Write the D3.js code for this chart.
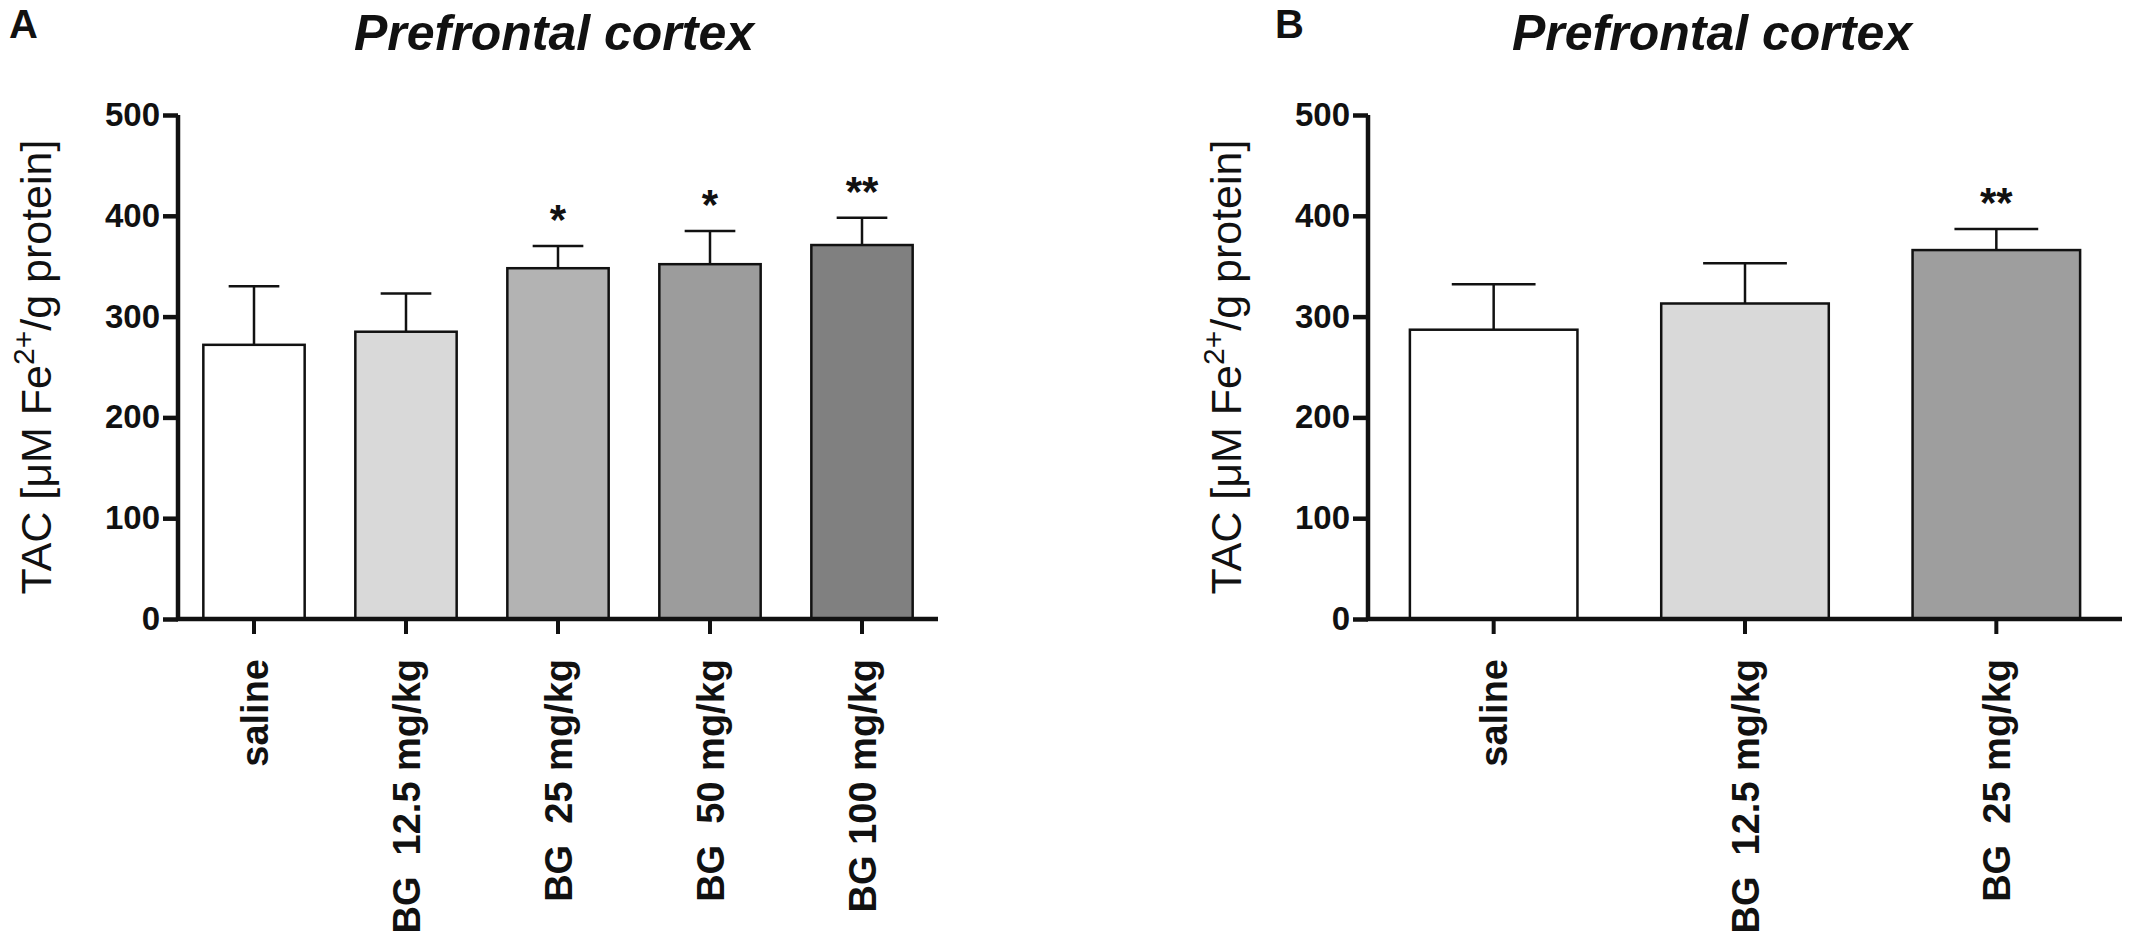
<!DOCTYPE html>
<html>
<head>
<meta charset="utf-8">
<script src="https://cdn.jsdelivr.net/npm/d3@7"></script>
<style>
  body { margin: 0; background: #fff; }
  text { font-family: "Liberation Sans", Arial, sans-serif; fill: #111; }
</style>
</head>
<body>
<svg id="chart" width="2130" height="944"></svg>
<script>
// panel A data
const groupsA = ["saline", "BG  12.5 mg/kg", "BG  25 mg/kg", "BG  50 mg/kg", "BG 100 mg/kg"]
const meansA = [272, 285, 348, 352, 371]
const errA = [330, 323, 370, 385, 398]
const starsA = ["", "", "*", "*", "**"]
const fillsA = ["#ffffff", "#d9d9d9", "#b3b3b3", "#9c9c9c", "#808080"]

// panel B data
const groupsB = ["saline", "BG  12.5 mg/kg", "BG  25 mg/kg"]
const meansB = [287, 313, 366]
const errB = [332, 353, 387]
const starsB = ["", "", "**"]
const fillsB = ["#ffffff", "#d9d9d9", "#9e9e9e"]

const yTicks = [0, 100, 200, 300, 400, 500]

const svg = d3.select("#chart")

function drawPanel(opts) {
  const g = svg.append("g")
  const y = d3.scaleLinear().domain([0, 500]).range([619, 115])
  const x = d3.scaleBand()
    .domain(opts.groups)
    .range([opts.x0, opts.x1])
    .paddingInner(1 / 3)
    .paddingOuter(1 / 6)

  const data = opts.groups.map((name, i) => ({
    name,
    mean: opts.means[i],
    err: opts.errs[i],
    star: opts.stars[i],
    fill: opts.fills[i],
  }))

  // error bars (upper only) drawn first so the bar outline sits on top
  const capW = x.bandwidth() / 2
  g.selectAll(".err")
    .data(data)
    .enter()
    .append("line")
    .attr("x1", d => x(d.name) + x.bandwidth() / 2)
    .attr("x2", d => x(d.name) + x.bandwidth() / 2)
    .attr("y1", d => y(d.mean))
    .attr("y2", d => y(d.err))
    .attr("stroke", "#111")
    .attr("stroke-width", 2.5)
  g.selectAll(".cap")
    .data(data)
    .enter()
    .append("line")
    .attr("x1", d => x(d.name) + x.bandwidth() / 2 - capW / 2)
    .attr("x2", d => x(d.name) + x.bandwidth() / 2 + capW / 2)
    .attr("y1", d => y(d.err))
    .attr("y2", d => y(d.err))
    .attr("stroke", "#111")
    .attr("stroke-width", 2.5)

  // bars
  g.selectAll("rect")
    .data(data)
    .enter()
    .append("rect")
    .attr("x", d => x(d.name))
    .attr("y", d => y(d.mean))
    .attr("width", x.bandwidth())
    .attr("height", d => y(0) - y(d.mean))
    .attr("fill", d => d.fill)
    .attr("stroke", "#111")
    .attr("stroke-width", 2.5)

  // significance stars
  g.selectAll(".star")
    .data(data.filter(d => d.star))
    .enter()
    .append("text")
    .attr("x", d => x(d.name) + x.bandwidth() / 2)
    .attr("y", d => y(d.err) - 12)
    .attr("text-anchor", "middle")
    .attr("font-size", 42)
    .attr("font-weight", "bold")
    .text(d => d.star)

  // y axis
  const yAxis = d3.axisLeft(y).tickValues(yTicks).tickSize(15).tickPadding(3)
  const ya = g.append("g").attr("transform", `translate(${opts.x0},0)`).call(yAxis)
  ya.select(".domain").attr("stroke", "#111").attr("stroke-width", 4.5)
    .attr("d", `M0,${y(500)}V${y(0)}`)
  ya.selectAll(".tick line").attr("stroke", "#111").attr("stroke-width", 4.5)
  ya.selectAll(".tick text")
    .attr("font-size", 33)
    .attr("font-weight", "bold")
    .attr("font-family", "'Liberation Sans', Arial, sans-serif")
    .attr("fill", "#111")

  // x axis
  const xAxis = d3.axisBottom(x).tickSize(15).tickFormat("")
  const xa = g.append("g").attr("transform", `translate(0,${y(0)})`).call(xAxis)
  xa.select(".domain").attr("stroke", "#111").attr("stroke-width", 4.5)
    .attr("d", `M${opts.x0 - 2},0H${opts.x1}`)
  xa.selectAll(".tick line").attr("stroke", "#111").attr("stroke-width", 4)

  // rotated category labels
  g.selectAll(".xlab")
    .data(data)
    .enter()
    .append("text")
    .attr("transform", d => `translate(${x(d.name) + x.bandwidth() / 2},659) rotate(-90)`)
    .attr("dy", "0.36em")
    .attr("text-anchor", "end")
    .attr("font-size", 38)
    .attr("font-weight", "bold")
    .style("white-space", "pre")
    .text(d => d.name)

  // y axis title
  const yt = g.append("text")
    .attr("transform", `translate(${opts.x0 - 127},${(y(0) + y(500)) / 2}) rotate(-90)`)
    .attr("text-anchor", "middle")
    .attr("font-size", 43)
  yt.append("tspan").text("TAC [\u03bcM Fe")
  yt.append("tspan").attr("dy", -17).attr("font-size", 30).text("2+")
  yt.append("tspan").attr("dy", 17).text("/g protein]")

  // panel title and letter
  g.append("text")
    .attr("x", opts.titleX)
    .attr("y", 50)
    .attr("text-anchor", "middle")
    .attr("font-size", 50)
    .attr("font-weight", "bold")
    .attr("font-style", "italic")
    .text("Prefrontal cortex")
  g.append("text")
    .attr("x", opts.letterX)
    .attr("y", 38)
    .attr("font-size", 40)
    .attr("font-weight", "bold")
    .text(opts.letter)
}

drawPanel({ groups: groupsA, means: meansA, errs: errA, stars: starsA, fills: fillsA,
  x0: 178, x1: 938, letter: "A", letterX: 9, titleX: 554 })
drawPanel({ groups: groupsB, means: meansB, errs: errB, stars: starsB, fills: fillsB,
  x0: 1368, x1: 2122, letter: "B", letterX: 1275, titleX: 1712 })
</script>
</body>
</html>
